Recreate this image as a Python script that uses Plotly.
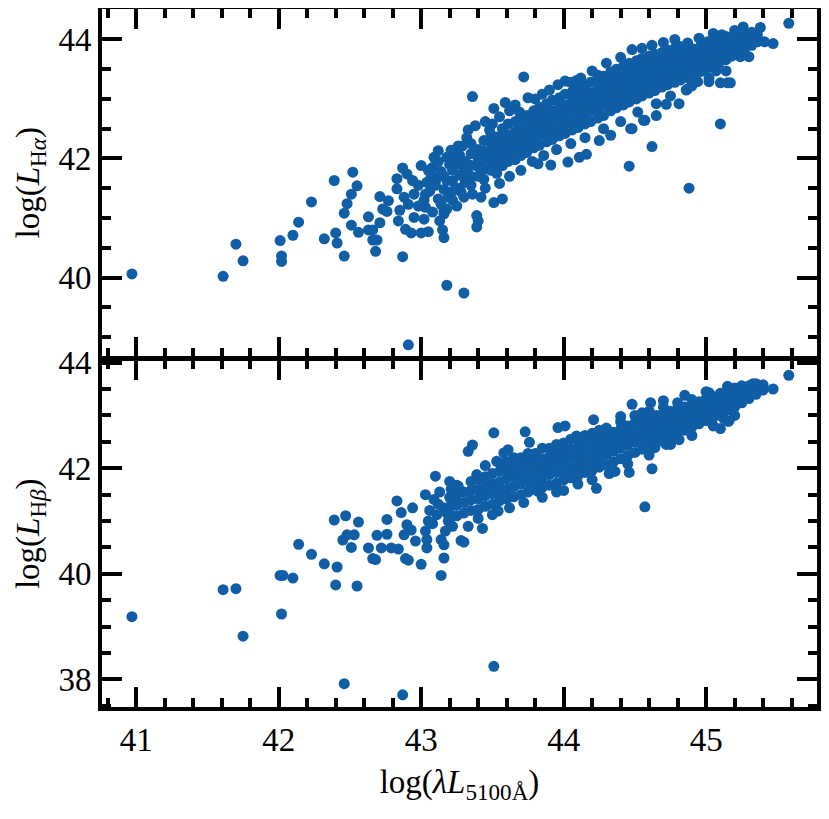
import plotly.graph_objects as go
from plotly.subplots import make_subplots

# log(lambda L_5100) vs log(L_Halpha)
lha_x = [
    40.97, 41.61, 41.70, 41.75, 42.01, 42.02, 42.02, 42.10, 42.14, 42.23,
    42.32, 42.39, 42.40, 42.41, 42.46, 42.46, 42.48, 42.51, 42.51, 42.52,
    42.55, 42.56, 42.63, 42.63, 42.66, 42.68, 42.69, 42.66, 42.71, 42.71,
    42.73, 42.77, 42.76, 42.83, 42.83, 42.85, 42.84, 42.87, 42.88, 42.89,
    42.87, 42.90, 42.91, 42.93, 42.94, 42.95, 42.95, 42.91, 43.00, 43.02,
    43.03, 43.03, 43.04, 43.05, 43.05, 43.09, 43.12, 43.14, 43.15, 43.16,
    43.16, 43.18, 43.21, 43.19, 43.18, 43.16, 43.11, 43.30, 43.26, 43.28,
    43.16, 43.18, 43.39, 43.40, 43.39, 43.36, 43.51, 43.57, 43.42, 43.33,
    43.29, 43.51, 43.59, 43.48, 43.72, 43.75, 43.69, 43.82, 43.91, 44.03,
    44.11, 44.16, 43.96, 44.01, 44.09, 44.20, 44.24, 44.33, 44.25, 44.46,
    44.62, 44.48, 44.65, 44.56, 44.48, 44.72, 44.81, 44.87, 44.88, 45.10,
    44.87, 45.01, 45.11, 45.26, 45.38, 45.58, 45.41, 45.47, 45.30, 45.24,
    45.14, 45.17, 45.10, 45.07, 45.02, 44.94, 45.15, 44.86, 44.57, 44.47,
    42.98, 43.02, 43.06, 43.08, 43.10, 43.12, 43.13, 43.07, 43.00, 42.98,
    43.08, 43.12, 43.14, 43.20, 43.18, 43.24, 43.10, 43.16, 43.22, 43.25,
    43.32, 43.38, 43.45, 43.50, 43.55, 43.62, 43.66, 43.80, 43.85, 43.90,
    44.05, 44.12, 44.30, 44.40, 44.55, 44.62, 44.70, 44.78, 44.95, 45.05, 45.20,
    43.30, 43.36, 43.45, 43.55, 43.62, 43.70, 43.78, 43.86, 43.95, 44.05,
    44.15, 44.28, 44.40, 44.52, 44.65, 44.75, 44.90, 45.02,
    43.22, 43.22, 43.22, 43.22, 43.27, 43.27, 43.27, 43.27, 43.31, 43.31, 43.31,
    43.35, 43.35, 43.35, 43.35, 43.35, 43.40, 43.40, 43.40, 43.40,
    43.44, 43.44, 43.44, 43.44, 43.44, 43.49, 43.49, 43.49, 43.49, 43.49,
    43.53, 43.53, 43.53, 43.53, 43.53, 43.57, 43.57, 43.57, 43.57, 43.57,
    43.61, 43.61, 43.61, 43.61, 43.61, 43.66, 43.66, 43.66, 43.66, 43.66,
    43.70, 43.70, 43.70, 43.70, 43.70, 43.74, 43.74, 43.74, 43.74, 43.74,
    43.79, 43.79, 43.79, 43.79, 43.79, 43.83, 43.83, 43.83, 43.83, 43.83,
    43.88, 43.88, 43.88, 43.88, 43.88, 43.92, 43.92, 43.92, 43.92, 43.92,
    43.97, 43.97, 43.97, 43.97, 43.97, 44.01, 44.01, 44.01, 44.01, 44.01,
    44.06, 44.06, 44.06, 44.06, 44.06, 44.10, 44.10, 44.10, 44.10, 44.10,
    44.15, 44.15, 44.15, 44.15, 44.15, 44.19, 44.19, 44.19, 44.19, 44.19,
    44.24, 44.24, 44.24, 44.24, 44.24, 44.28, 44.28, 44.28, 44.28, 44.28,
    44.33, 44.33, 44.33, 44.33, 44.33, 44.37, 44.37, 44.37, 44.37, 44.37,
    44.42, 44.42, 44.42, 44.42, 44.42, 44.46, 44.46, 44.46, 44.46, 44.46,
    44.51, 44.51, 44.51, 44.51, 44.51, 44.55, 44.55, 44.55, 44.55, 44.55,
    44.60, 44.60, 44.60, 44.60, 44.60, 44.64, 44.64, 44.64, 44.64, 44.64,
    44.69, 44.69, 44.69, 44.69, 44.69, 44.73, 44.73, 44.73, 44.73, 44.73,
    44.78, 44.78, 44.78, 44.78, 44.78, 44.82, 44.82, 44.82, 44.82, 44.82,
    44.87, 44.87, 44.87, 44.87, 44.91, 44.91, 44.91, 44.91,
    44.96, 44.96, 44.96, 44.96, 45.00, 45.00, 45.00, 45.00,
    45.05, 45.05, 45.05, 45.05, 45.09, 45.09, 45.09, 45.09,
    45.14, 45.14, 45.14, 45.14, 45.18, 45.18, 45.18, 45.23, 45.23, 45.23,
    45.27, 45.27, 45.27, 45.32, 45.32, 45.32, 45.36, 45.36,
]
lha_y = [
    40.06, 40.02, 40.56, 40.28, 40.62, 40.36, 40.27, 40.71, 40.93, 41.27,
    40.65, 41.63, 40.75, 40.58, 40.36, 41.08, 41.24, 41.40, 40.88, 41.77,
    41.54, 40.76, 41.02, 40.80, 40.63, 40.44, 40.63, 40.80, 41.36, 40.92,
    41.15, 41.29, 41.11, 41.66, 41.49, 41.13, 40.95, 41.84, 41.35, 40.81,
    40.35, 41.74, 41.23, 40.75, 41.63, 41.40, 41.01, 38.87, 40.75, 40.98,
    41.18, 41.40, 41.60, 40.77, 41.80, 42.02, 42.13, 41.23, 40.80, 40.67,
    41.07, 39.87, 42.14, 41.35, 41.63, 41.70, 41.68, 39.74, 42.21, 41.44,
    41.12, 41.15, 41.04, 40.95, 40.85, 43.04, 41.26, 41.32, 41.35, 42.48,
    42.21, 42.84, 42.94, 42.48, 43.37, 43.02, 42.78, 41.91, 41.89, 41.94,
    42.02, 42.07, 43.24, 43.30, 43.31, 43.47, 43.40, 42.39, 42.30, 41.87,
    42.20, 43.83, 42.72, 42.64, 42.50, 42.91, 42.92, 43.17, 41.50, 42.58,
    43.94, 43.96, 44.08, 44.21, 44.20, 44.27, 43.96, 43.93, 43.71, 43.71,
    43.47, 43.27, 43.27, 43.47, 43.29, 43.29, 43.27, 43.15, 42.64, 42.50,
    41.55, 41.30, 41.45, 41.10, 41.55, 41.32, 40.95, 41.70, 41.88, 41.20,
    41.85, 41.95, 41.78, 41.90, 42.02, 42.08, 41.62, 41.48, 41.30, 41.20,
    42.35, 42.55, 42.62, 42.58, 42.70, 42.80, 42.90, 43.00, 43.08, 43.15,
    43.28, 43.35, 43.60, 43.70, 43.85, 43.90, 43.95, 44.00, 44.02, 44.10, 44.15,
    41.35, 41.40, 41.50, 41.58, 41.70, 41.80, 41.95, 42.05, 42.15, 42.25,
    42.35, 42.50, 42.62, 42.78, 42.92, 43.05, 43.22, 43.35,
    41.45, 41.62, 41.80, 41.95, 41.50, 41.72, 41.90, 42.05, 41.60, 41.78, 41.95,
    41.55, 41.70, 41.88, 42.08, 42.25, 41.70, 41.86, 42.00, 42.15,
    41.65, 41.82, 41.98, 42.12, 42.30, 41.80, 41.95, 42.10, 42.25, 42.40,
    41.75, 41.92, 42.08, 42.22, 42.36, 41.88, 42.02, 42.18, 42.33, 42.50,
    41.95, 42.10, 42.25, 42.40, 42.58, 41.98, 42.15, 42.30, 42.45, 42.62,
    42.05, 42.22, 42.38, 42.52, 42.70, 42.10, 42.26, 42.43, 42.58, 42.72,
    42.18, 42.35, 42.50, 42.64, 42.80, 42.22, 42.40, 42.55, 42.70, 42.86,
    42.28, 42.45, 42.60, 42.75, 42.92, 42.32, 42.48, 42.65, 42.80, 42.98,
    42.38, 42.55, 42.72, 42.86, 43.02, 42.42, 42.58, 42.75, 42.90, 43.08,
    42.48, 42.65, 42.82, 42.96, 43.12, 42.52, 42.68, 42.85, 43.00, 43.16,
    42.58, 42.75, 42.92, 43.06, 43.22, 42.62, 42.80, 42.96, 43.10, 43.28,
    42.68, 42.85, 43.02, 43.18, 43.34, 42.72, 42.90, 43.06, 43.22, 43.38,
    42.80, 42.96, 43.12, 43.28, 43.45, 42.85, 43.02, 43.18, 43.34, 43.50,
    42.90, 43.06, 43.22, 43.38, 43.55, 42.95, 43.12, 43.28, 43.44, 43.60,
    43.00, 43.16, 43.32, 43.48, 43.64, 43.05, 43.20, 43.36, 43.52, 43.68,
    43.10, 43.26, 43.42, 43.56, 43.72, 43.14, 43.30, 43.46, 43.60, 43.75,
    43.20, 43.35, 43.50, 43.64, 43.78, 43.24, 43.38, 43.53, 43.68, 43.82,
    43.28, 43.42, 43.58, 43.72, 43.85, 43.32, 43.46, 43.62, 43.76, 43.88,
    43.36, 43.50, 43.65, 43.80, 43.42, 43.56, 43.70, 43.84,
    43.46, 43.60, 43.74, 43.88, 43.50, 43.64, 43.78, 43.92,
    43.56, 43.70, 43.84, 43.97, 43.60, 43.74, 43.88, 44.00,
    43.66, 43.80, 43.94, 44.05, 43.72, 43.85, 43.98, 43.78, 43.90, 44.03,
    43.84, 43.96, 44.08, 43.90, 44.02, 44.12, 43.96, 44.08,
]

# log(lambda L_5100) vs log(L_Hbeta)
lhb_x = [
    40.97, 41.61, 41.70, 41.75, 42.01, 42.03, 42.02, 42.10, 42.14, 42.23,
    42.32, 42.41, 42.40, 42.46, 42.39, 42.47, 42.48, 42.45, 42.53, 42.51,
    42.56, 42.55, 42.63, 42.66, 42.68, 42.69, 42.72, 42.76, 42.76, 42.79,
    42.84, 42.83, 42.86, 42.87, 42.89, 42.91, 42.90, 42.94, 42.96, 42.88,
    42.93, 43.00, 43.03, 43.04, 43.04, 43.03, 43.09, 43.10, 43.11, 43.14,
    43.16, 43.16, 43.14, 43.17, 43.19, 43.21, 43.21, 43.16, 43.28, 43.26,
    43.51, 44.57, 44.62, 44.46, 44.36, 44.23, 44.00, 43.82, 43.54, 43.43,
    43.33, 43.30, 43.33, 43.36, 43.51, 43.39, 43.73, 43.76, 43.61, 43.58,
    43.53, 43.96, 44.01, 44.21, 44.09, 44.48, 44.61, 44.81, 44.72, 44.64,
    45.10, 45.16, 45.12, 45.58, 45.47, 45.40, 45.33, 45.28, 45.02, 45.15,
    43.06, 43.12, 43.08, 43.18, 43.22, 43.13, 43.05, 43.25, 43.20,
    43.45, 43.55, 43.65, 43.75, 43.85, 43.95, 44.05, 44.15, 44.25, 44.40,
    44.55, 44.70, 44.85, 45.00, 45.15,
    43.40, 43.50, 43.62, 43.72, 43.85, 43.95, 44.10, 44.20, 44.32, 44.45,
    44.60, 44.75, 44.90, 45.05, 45.20,
    43.20, 43.20, 43.20, 43.25, 43.25, 43.25, 43.25, 43.30, 43.30, 43.30,
    43.35, 43.35, 43.35, 43.35, 43.40, 43.40, 43.40, 43.40,
    43.45, 43.45, 43.45, 43.45, 43.50, 43.50, 43.50, 43.50,
    43.55, 43.55, 43.55, 43.55, 43.60, 43.60, 43.60, 43.60, 43.60,
    43.65, 43.65, 43.65, 43.65, 43.70, 43.70, 43.70, 43.70, 43.70,
    43.75, 43.75, 43.75, 43.75, 43.80, 43.80, 43.80, 43.80, 43.80,
    43.85, 43.85, 43.85, 43.85, 43.90, 43.90, 43.90, 43.90, 43.90,
    43.95, 43.95, 43.95, 43.95, 44.00, 44.00, 44.00, 44.00, 44.00,
    44.05, 44.05, 44.05, 44.05, 44.10, 44.10, 44.10, 44.10, 44.10,
    44.15, 44.15, 44.15, 44.15, 44.20, 44.20, 44.20, 44.20, 44.20,
    44.25, 44.25, 44.25, 44.25, 44.30, 44.30, 44.30, 44.30, 44.30,
    44.35, 44.35, 44.35, 44.35, 44.40, 44.40, 44.40, 44.40, 44.40,
    44.45, 44.45, 44.45, 44.45, 44.50, 44.50, 44.50, 44.50, 44.50,
    44.55, 44.55, 44.55, 44.55, 44.60, 44.60, 44.60, 44.60, 44.60,
    44.65, 44.65, 44.65, 44.65, 44.70, 44.70, 44.70, 44.70, 44.70,
    44.75, 44.75, 44.75, 44.75, 44.80, 44.80, 44.80, 44.80, 44.80,
    44.85, 44.85, 44.85, 44.85, 44.90, 44.90, 44.90, 44.90, 44.90,
    44.95, 44.95, 44.95, 44.95, 45.00, 45.00, 45.00, 45.00,
    45.05, 45.05, 45.05, 45.05, 45.10, 45.10, 45.10, 45.10,
    45.15, 45.15, 45.15, 45.15, 45.20, 45.20, 45.20, 45.20,
    45.25, 45.25, 45.25, 45.25, 45.30, 45.30, 45.30,
    45.35, 45.35, 45.35, 45.40, 45.40,
]
lhb_y = [
    39.19, 39.70, 39.72, 38.82, 39.97, 39.97, 39.24, 39.92, 40.56, 40.37,
    40.19, 40.13, 39.79, 37.92, 41.02, 41.10, 40.74, 40.64, 40.74, 40.50,
    40.98, 39.77, 40.49, 40.29, 40.27, 40.73, 40.49, 41.03, 40.75, 40.49,
    40.47, 41.38, 41.16, 37.71, 40.29, 40.26, 40.93, 41.25, 40.62, 40.74,
    40.83, 40.18, 41.50, 40.49, 40.65, 40.81, 41.41, 41.85, 41.12, 39.97,
    40.30, 40.55, 40.65, 40.81, 41.00, 41.60, 41.41, 41.25, 40.63, 41.66,
    38.25, 41.27, 41.99, 41.92, 41.94, 41.62, 41.58, 41.56, 41.19, 40.86,
    40.90, 40.60, 42.32, 42.44, 42.67, 41.88, 42.69, 42.49, 42.35, 42.29,
    42.13, 42.77, 42.80, 42.92, 42.61, 43.21, 43.24, 42.54, 42.45, 42.39,
    42.75, 42.89, 42.95, 43.76, 43.50, 43.52, 43.60, 43.36, 43.43, 42.89,
    41.20, 41.32, 40.95, 41.15, 40.90, 41.55, 41.00, 41.35, 41.75,
    42.05, 42.10, 42.20, 42.28, 42.38, 42.45, 42.55, 42.62, 42.72, 42.98,
    43.05, 43.28, 43.38, 43.45, 43.55,
    41.05, 41.12, 41.25, 41.35, 41.45, 41.55, 41.70, 41.78, 41.90, 42.08,
    42.25, 42.45, 42.62, 42.80, 43.00,
    41.05, 41.25, 41.45, 41.10, 41.30, 41.50, 41.68, 41.15, 41.35, 41.55,
    41.20, 41.40, 41.58, 41.75, 41.22, 41.42, 41.60, 41.80,
    41.28, 41.48, 41.66, 41.84, 41.32, 41.52, 41.70, 41.90,
    41.38, 41.56, 41.74, 41.94, 41.42, 41.60, 41.80, 41.98, 42.12,
    41.46, 41.65, 41.84, 42.02, 41.50, 41.70, 41.88, 42.06, 42.20,
    41.55, 41.74, 41.92, 42.10, 41.60, 41.78, 41.96, 42.14, 42.28,
    41.64, 41.82, 42.00, 42.18, 41.68, 41.88, 42.05, 42.22, 42.38,
    41.72, 41.92, 42.10, 42.28, 41.78, 41.96, 42.14, 42.32, 42.48,
    41.82, 42.00, 42.18, 42.36, 41.86, 42.04, 42.22, 42.40, 42.56,
    41.92, 42.10, 42.28, 42.46, 41.96, 42.14, 42.32, 42.50, 42.66,
    42.02, 42.20, 42.38, 42.56, 42.06, 42.26, 42.44, 42.62, 42.76,
    42.12, 42.32, 42.50, 42.68, 42.18, 42.38, 42.56, 42.74, 42.88,
    42.24, 42.44, 42.62, 42.80, 42.30, 42.50, 42.68, 42.86, 43.00,
    42.36, 42.55, 42.72, 42.90, 42.42, 42.60, 42.78, 42.95, 43.08,
    42.48, 42.66, 42.84, 43.00, 42.55, 42.72, 42.88, 43.04, 43.16,
    42.60, 42.76, 42.92, 43.08, 42.66, 42.82, 42.98, 43.12, 43.24,
    42.72, 42.88, 43.02, 43.16, 42.78, 42.92, 43.06, 43.20, 43.30,
    42.84, 42.98, 43.12, 43.26, 42.90, 43.04, 43.18, 43.32,
    42.96, 43.10, 43.24, 43.36, 43.02, 43.16, 43.30, 43.42,
    43.10, 43.22, 43.36, 43.46, 43.16, 43.28, 43.42, 43.52,
    43.24, 43.36, 43.48, 43.56, 43.32, 43.44, 43.56,
    43.40, 43.52, 43.60, 43.48, 43.58,
]

dot_color = "#105ea6"
font_family = "Liberation Serif"
tick_font = dict(family=font_family, size=33, color="black")

fig = make_subplots(rows=2, cols=1, shared_xaxes=True, vertical_spacing=0.0057,
                    row_heights=[348, 347])

fig.add_trace(go.Scatter(x=lha_x, y=lha_y, mode="markers",
                         marker=dict(size=11, color=dot_color, line=dict(width=0)),
                         showlegend=False), row=1, col=1)
fig.add_trace(go.Scatter(x=lhb_x, y=lhb_y, mode="markers",
                         marker=dict(size=11, color=dot_color, line=dict(width=0)),
                         showlegend=False), row=2, col=1)

axis_style = dict(showline=True, linewidth=4, linecolor="black", mirror="allticks",
                  ticks="inside", ticklen=20, tickwidth=3.5, tickcolor="black",
                  showgrid=False, zeroline=False, automargin=False,
                  tickfont=tick_font,
                  minor=dict(ticks="inside", ticklen=9, tickwidth=3.5, tickcolor="black",
                             showgrid=False))

fig.update_xaxes(**axis_style)
fig.update_yaxes(**axis_style)

fig.update_xaxes(range=[40.76, 45.778], tickvals=[41, 42, 43, 44, 45],
                 minor_dtick=0.2, minor_tick0=41)
fig.update_xaxes(title=dict(text="log(<i>λL</i><sub>5100Å</sub>)", standoff=14,
                            font=dict(family=font_family, size=33, color="black")),
                 row=2, col=1)

fig.update_yaxes(range=[38.673, 44.511], tickvals=[40, 42, 44], minor_dtick=0.5, minor_tick0=40,
                 title=dict(text="log(<i>L</i><sub>H<i>α</i></sub>)", standoff=10,
                            font=dict(family=font_family, size=33, color="black")),
                 row=1, col=1)
fig.update_yaxes(range=[37.479, 44.04], tickvals=[38, 40, 42, 44], minor_dtick=0.5, minor_tick0=38,
                 title=dict(text="log(<i>L</i><sub>H<i>β</i></sub>)", standoff=10,
                            font=dict(family=font_family, size=33, color="black")),
                 row=2, col=1)

# the page body adds an 8 px margin, so the figure is 16 px smaller and shifted
fig.update_layout(width=813, height=803, margin=dict(l=94, r=3.5, t=1, b=103.5),
                  plot_bgcolor="white", paper_bgcolor="white",
                  font=dict(family=font_family, color="black"))

fig.write_html("out.html")
